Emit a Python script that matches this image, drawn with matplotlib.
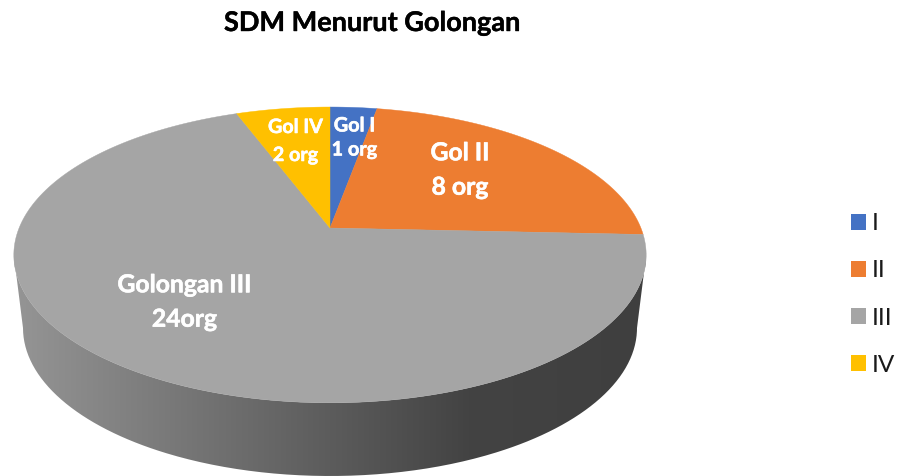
import numpy as np
import matplotlib
matplotlib.use("Agg")
import matplotlib.pyplot as plt
import matplotlib.patheffects as pe
from matplotlib.patches import Patch, PathPatch
from matplotlib.path import Path
from matplotlib.colors import LinearSegmentedColormap

plt.rcParams['font.family'] = ['Lato', 'DejaVu Sans']

title = "SDM Menurut Golongan"
categories = ["I", "II", "III", "IV"]
values = [1, 8, 24, 2]
colors = ["#4472c4", "#ed7d31", "#a5a5a5", "#ffc000"]
slice_labels = ["Gol I\n1 org", "Gol II\n8 org", "Golongan III\n24org", "Gol IV\n2 org"]

# everything is drawn in pixel coords of the reference
apex_x, apex_y = 330, 228
a, b, k = 310.9, 143.0, 0.182

def project(t):
    # t is clockwise from 12 o'clock, tilted disc -> perspective
    u, v = np.sin(t), np.cos(t)
    w = 1 + k * v
    return apex_x + a * u / w, apex_y - b * v / w

fig = plt.figure(figsize=(8.97, 4.76), dpi=100)
ax = fig.add_axes([0, 0, 1, 1])
ax.set_xlim(0, 897)
ax.set_ylim(476, 0)
ax.axis('off')

# side wall: lower half of the top rim down to a smaller bottom rim
rim_t = np.linspace(0, 2 * np.pi, 721)
rim_x, rim_y = project(rim_t)
left_i, right_i = np.argmin(rim_x), np.argmax(rim_x)
t_low = np.linspace(rim_t[right_i], rim_t[left_i], 300)
top_x, top_y = project(t_low)
s = np.linspace(0, np.pi, 300)
bot_x = 330 + 307 * np.cos(s)
bot_y = 328 + 148 * np.sin(s)
wall_x = np.concatenate([top_x, bot_x[::-1]])
wall_y = np.concatenate([top_y, bot_y[::-1]])
wall_path = Path(np.column_stack([wall_x, wall_y]))

shade = LinearSegmentedColormap.from_list("wall", [(0, "#959595"), (0.72, "#434343"), (1, "#3f3f3f")])
grad = ax.imshow(np.linspace(0, 1, 256).reshape(1, -1), cmap=shade, vmin=0, vmax=1,
                 extent=[14, 646, 476, 240], aspect='auto', zorder=1)
clip = PathPatch(wall_path, transform=ax.transData, facecolor='none', edgecolor='none')
ax.add_patch(clip)
grad.set_clip_path(clip)
ax.set_xlim(0, 897)
ax.set_ylim(476, 0)

# pie top
edges = np.cumsum([0] + values) / sum(values) * 2 * np.pi
for i in range(len(values)):
    t = np.linspace(edges[i], edges[i + 1], 200)
    x, y = project(t)
    ax.fill(np.r_[apex_x, x], np.r_[apex_y, y], color=colors[i], lw=0.3, zorder=2)

label_pos = [(354.5, 137.5), (460, 170), (184.5, 302), (295.5, 141)]
label_size = [14.3, 17.8, 17.8, 14.2]
label_gap = [1.25, 1.6, 1.6, 1.5]
for lab, pos, fs, gap in zip(slice_labels, label_pos, label_size, label_gap):
    ax.text(pos[0], pos[1], lab, color='white', fontsize=fs, fontweight='bold',
            ha='center', va='center', linespacing=gap, zorder=3,
            path_effects=[pe.withStroke(linewidth=0.4, foreground='white')])

ax.text(372, 23, title, fontsize=19.5, fontweight='bold', color='black', ha='center', va='center',
        path_effects=[pe.withStroke(linewidth=0.3, foreground='black')])

handles = [Patch(facecolor=c, edgecolor='none') for c in colors]
ax.legend(handles, categories, loc='center left', bbox_to_anchor=(851 / 897, 1 - 294.5 / 476),
          frameon=False, fontsize=17.5, handlelength=0.62, handleheight=0.62, handletextpad=0.25,
          labelspacing=1.07, labelcolor='#1a1a1a', borderpad=0, borderaxespad=0)

fig.savefig("out.png", dpi=100)
